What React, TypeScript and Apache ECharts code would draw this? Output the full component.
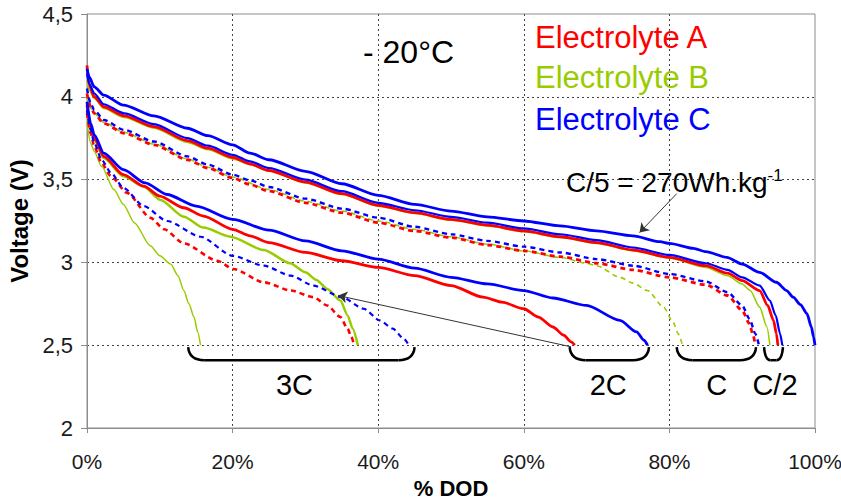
import React, { useEffect, useRef } from 'react';
import * as echarts from 'echarts';

const RED = '#ff0000';
const GREEN = '#99cc00';
const BLUE = '#0000ff';
const FONT = '"Liberation Sans", Arial, Helvetica, sans-serif';

// ---- axis ranges ----
const xRange = [0, 100];
const yRange = [2, 4.5];

// ---- discharge curves (% DOD, Voltage) ----
// C/5, electrolyte C
const c5_C = [[0,4.17],[0.3,4.12],[1,4.06],[2.3,4.01],[5,3.95],[9.2,3.885],[13.8,3.81],[16.6,3.765],[20,3.71],[22.4,3.66],[25,3.62],[30,3.55],[35,3.475],[40,3.405],[45,3.35],[50,3.31],[55,3.275],[60,3.25],[65,3.22],[70,3.19],[75,3.16],[78.7,3.125],[80,3.115],[83.3,3.085],[85,3.065],[87.9,3.03],[90,2.99],[92.4,2.94],[94.7,2.88],[96.1,2.83],[97,2.79],[98,2.745],[98.9,2.69],[99.5,2.61],[99.8,2.55],[100,2.5]];
// C/2
const c2_A = [[0,4.19],[0.3,4.07],[1,4.0],[2.3,3.94],[5.1,3.885],[9.2,3.82],[13.8,3.735],[16.6,3.69],[20,3.635],[22.4,3.595],[25,3.555],[30,3.485],[35,3.415],[40,3.345],[45,3.3],[50,3.26],[55,3.225],[60,3.19],[65,3.155],[70,3.12],[75,3.075],[80,3.03],[85,2.98],[88,2.935],[90,2.89],[92.4,2.83],[93.5,2.74],[94.3,2.65],[94.7,2.57],[94.9,2.5]];
const c2_B = [[0,4.1],[0.3,4.04],[1,3.99],[2.3,3.93],[5.1,3.875],[9.2,3.81],[13.8,3.725],[16.6,3.68],[20,3.625],[22.4,3.59],[25,3.55],[30,3.48],[35,3.41],[40,3.34],[45,3.295],[50,3.255],[55,3.22],[60,3.185],[65,3.15],[70,3.115],[75,3.07],[80,3.025],[85,2.97],[88,2.92],[90,2.87],[91.1,2.83],[92.4,2.73],[93.4,2.61],[93.8,2.5]];
const c2_C = [[0,4.14],[0.3,4.08],[1,4.02],[2.3,3.955],[5.1,3.9],[9.2,3.835],[13.8,3.75],[16.6,3.705],[20,3.65],[22.4,3.61],[25,3.57],[30,3.5],[35,3.43],[40,3.36],[45,3.315],[50,3.275],[55,3.24],[60,3.205],[65,3.17],[70,3.135],[75,3.09],[80,3.045],[85,2.995],[88,2.955],[90,2.91],[92.4,2.86],[93.8,2.77],[94.6,2.68],[95.2,2.57],[95.5,2.5]];
// C
const c1_A = [[0,4.02],[0.5,3.94],[1,3.9],[2.3,3.84],[5.1,3.78],[9.2,3.71],[13.8,3.62],[16.6,3.57],[20,3.51],[22.4,3.47],[25,3.43],[30,3.36],[35,3.3],[40,3.24],[45,3.19],[50,3.15],[55,3.105],[60,3.07],[65,3.035],[70,2.995],[75,2.955],[80,2.91],[85,2.865],[88,2.8],[90,2.71],[91,2.63],[91.5,2.56],[91.8,2.5]];
const c1_B = [[0,4.0],[0.5,3.93],[1,3.9],[2.3,3.845],[5.1,3.785],[9.2,3.715],[13.8,3.625],[16.6,3.575],[20,3.515],[25,3.44],[30,3.37],[35,3.31],[40,3.25],[45,3.2],[50,3.155],[55,3.11],[60,3.07],[65,3.03],[68.6,2.995],[70,2.98],[73.2,2.91],[75,2.875],[77,2.83],[79.2,2.73],[80.5,2.64],[81.2,2.57],[81.8,2.5]];
const c1_C = [[0,4.05],[0.5,3.96],[1,3.92],[2.3,3.86],[5.1,3.8],[9.2,3.73],[13.8,3.64],[16.6,3.59],[20,3.53],[22.4,3.495],[25,3.455],[30,3.385],[35,3.325],[40,3.27],[45,3.215],[50,3.17],[55,3.13],[60,3.095],[65,3.06],[70,3.02],[75,2.98],[80,2.93],[85,2.885],[88,2.82],[90,2.74],[91,2.66],[91.8,2.57],[92.3,2.5]];
// 2C
const c2C_A = [[0,3.95],[0.5,3.82],[1,3.75],[2.3,3.64],[5,3.53],[7.8,3.46],[10,3.4],[13.3,3.33],[16,3.28],[20,3.2],[22.4,3.16],[25,3.12],[30,3.06],[35,3.01],[40,2.97],[45,2.92],[50,2.86],[54.4,2.79],[57,2.76],[60,2.72],[62,2.67],[64,2.61],[65.5,2.56],[66.5,2.52],[67,2.5]];
const c2C_B = [[0,3.92],[0.5,3.8],[1,3.74],[2.3,3.63],[5,3.52],[7.8,3.457],[10.1,3.377],[13.3,3.276],[16,3.21],[19.7,3.155],[24.3,3.075],[27.9,2.995],[30,2.94],[31.5,2.894],[33,2.84],[34.8,2.77],[35.8,2.68],[36.5,2.6],[37.2,2.5]];
const c2C_C = [[0,3.97],[0.5,3.84],[1,3.77],[2.3,3.66],[5,3.56],[8,3.48],[11,3.41],[15,3.34],[20,3.26],[25,3.195],[30,3.13],[35,3.07],[40,3.02],[45,2.965],[50,2.91],[55,2.87],[60,2.83],[64,2.785],[68.6,2.74],[73.2,2.65],[75.5,2.58],[76.5,2.53],[77,2.5]];
// 3C
const c3C_A = [[0,3.9],[0.5,3.78],[1,3.7],[2,3.6],[3.3,3.52],[5.5,3.42],[8.7,3.27],[10.6,3.2],[13.3,3.115],[17.9,3.01],[20.1,2.96],[24.3,2.88],[28,2.83],[31.1,2.79],[33,2.74],[34.8,2.67],[35.8,2.6],[36.3,2.55],[36.7,2.5]];
const c3C_B = [[0,3.85],[0.5,3.72],[1,3.67],[2,3.58],[3.7,3.44],[5,3.35],[6.5,3.24],[8.7,3.1],[10,3.04],[11.5,2.99],[12.5,2.92],[13.3,2.83],[14,2.75],[14.7,2.67],[15.2,2.58],[15.6,2.5]];
const c3C_C = [[0,3.92],[0.5,3.8],[1,3.72],[2,3.62],[3.3,3.54],[5,3.45],[7.8,3.34],[11,3.25],[15.6,3.155],[20,3.04],[24.3,2.98],[28,2.92],[31.1,2.86],[35,2.79],[38,2.72],[40.2,2.65],[42,2.6],[43.5,2.54],[44.2,2.5]];

// ---- rate brackets ----
const bracketLabels = ['3C', '2C', 'C', 'C/2'];
const bracketFrom = [13.9, 66.3, 81.0, 93.0];
const bracketTo = [45.0, 77.2, 91.9, 95.6];
const bracketLabelX = [28.5, 71.6, 86.5, 94.5];
const bracketV = 2.5;

// ---- arrows ----
const arrowFrom = [[81.0, 3.415], [66.5, 2.49]];
const arrowTo = [[75.9, 3.18], [34.5, 2.8]];

// ---- texts ----
const legendTexts = ['Electrolyte A', 'Electrolyte B', 'Electrolyte C'];
const legendColors = [RED, GREEN, BLUE];
const tempText = '- 20°C';

type Curve = { name: string; data: number[][]; color: string; width: number; dashed: boolean };

const curves: Curve[] = [
  // green (bottom layer)
  { name: 'Electrolyte B', data: c3C_B, color: GREEN, width: 1.5, dashed: false },
  { name: 'Electrolyte B', data: c1_B, color: GREEN, width: 1.6, dashed: true },
  { name: 'Electrolyte B', data: c2_B, color: GREEN, width: 1.6, dashed: false },
  { name: 'Electrolyte B', data: c2C_B, color: GREEN, width: 2.5, dashed: false },
  // red
  { name: 'Electrolyte A', data: c3C_A, color: RED, width: 2.6, dashed: true },
  { name: 'Electrolyte A', data: c2C_A, color: RED, width: 2.8, dashed: false },
  { name: 'Electrolyte A', data: c1_A, color: RED, width: 2.8, dashed: true },
  { name: 'Electrolyte A', data: c2_A, color: RED, width: 2.8, dashed: false },
  // blue
  { name: 'Electrolyte C', data: c3C_C, color: BLUE, width: 2.2, dashed: true },
  { name: 'Electrolyte C', data: c2C_C, color: BLUE, width: 2.8, dashed: false },
  { name: 'Electrolyte C', data: c1_C, color: BLUE, width: 2.4, dashed: true },
  { name: 'Electrolyte C', data: c2_C, color: BLUE, width: 2.2, dashed: false },
  { name: 'Electrolyte C', data: c5_C, color: BLUE, width: 2.8, dashed: false },
];

export default function App() {
  const ref = useRef<HTMLDivElement>(null);

  useEffect(() => {
    if (!ref.current) return;
    const chart = echarts.init(ref.current, undefined, { renderer: 'svg' });

    const lineSeries = curves.map((c) => ({
      type: 'line',
      name: c.name,
      data: c.data,
      showSymbol: false,
      symbol: 'none',
      smooth: 0.25,
      smoothMonotone: 'x',
      lineStyle: { color: c.color, width: c.width, type: c.dashed ? [5, 4] : 'solid' },
      itemStyle: { color: c.color },
      z: 3,
    }));

    const bracketData = bracketLabels.map((_, i) => [bracketFrom[i], bracketTo[i], bracketLabelX[i], bracketV]);

    const option: any = {
      animation: false,
      backgroundColor: '#ffffff',
      grid: {
        left: 87, right: 26, top: 14, bottom: 72,
        outerBoundsMode: 'none',
        containLabel: false,
        show: true, borderColor: '#8c8c8c', borderWidth: 1, backgroundColor: 'transparent',
      },
      xAxis: {
        type: 'value', min: xRange[0], max: xRange[1], interval: 20,
        name: '% DOD', nameLocation: 'middle', nameGap: 46,
        nameTextStyle: { fontSize: 22, fontWeight: 'bold', fontFamily: FONT, color: '#000', lineHeight: 24 },
        axisLine: { show: true, lineStyle: { color: '#8c8c8c', width: 1 } },
        axisTick: { show: true, inside: false, length: 5, lineStyle: { color: '#8c8c8c' } },
        axisLabel: { fontSize: 21, fontFamily: FONT, color: '#1a1a1a', margin: 23, formatter: (v: number) => `${v}%` },
        splitLine: { show: true, showMinLine: false, showMaxLine: false, lineStyle: { color: '#444', type: [2, 3], width: 1 } },
      },
      yAxis: {
        type: 'value', min: yRange[0], max: yRange[1], interval: 0.5,
        name: 'Voltage (V)', nameLocation: 'middle', nameGap: 47,
        nameTextStyle: { fontSize: 24, fontWeight: 'bold', fontFamily: FONT, color: '#000' },
        axisLine: { show: true, lineStyle: { color: '#8c8c8c', width: 1 } },
        axisTick: { show: true, inside: false, length: 6, lineStyle: { color: '#8c8c8c' } },
        axisLabel: { fontSize: 22, fontFamily: FONT, color: '#1a1a1a', margin: 14, formatter: (v: number) => String(v).replace('.', ',') },
        splitLine: { show: true, showMinLine: false, showMaxLine: false, lineStyle: { color: '#444', type: [2, 3], width: 1 } },
      },
      series: [
        ...lineSeries,
        {
          type: 'lines',
          coordinateSystem: 'cartesian2d',
          polyline: false,
          symbol: ['none', 'arrow'],
          symbolSize: 9,
          silent: true,
          lineStyle: { color: '#333', width: 1, opacity: 1, curveness: 0 },
          data: arrowFrom.map((f, i) => ({ coords: [f, arrowTo[i]] })),
          z: 4,
        },
        {
          type: 'custom',
          encode: { x: [0, 1, 2], y: 3 },
          data: bracketData,
          silent: true,
          clip: false,
          z: 4,
          renderItem: (params: any, api: any) => {
            const a = api.coord([api.value(0), api.value(3)]);
            const b = api.coord([api.value(1), api.value(3)]);
            const c = api.coord([api.value(2), api.value(3)]);
            const yTop = a[1] + 2;
            const yBot = a[1] + 15;
            const r = Math.min(16, (b[0] - a[0]) / 3);
            const st = { stroke: '#000', lineWidth: 2.5, fill: null };
            return {
              type: 'group',
              children: [
                { type: 'bezierCurve', shape: { x1: a[0], y1: yTop, x2: a[0] + r, y2: yBot, cpx1: a[0] + 1, cpy1: yBot }, style: st },
                { type: 'line', shape: { x1: a[0] + r, y1: yBot, x2: b[0] - r, y2: yBot }, style: st },
                { type: 'bezierCurve', shape: { x1: b[0], y1: yTop, x2: b[0] - r, y2: yBot, cpx1: b[0] - 1, cpy1: yBot }, style: st },
                {
                  type: 'text', x: c[0], y: a[1] + 40,
                  style: { text: bracketLabels[params.dataIndex], fontSize: 29, fontFamily: FONT, fill: '#000', align: 'center', verticalAlign: 'middle' },
                },
              ],
            };
          },
        },
      ],
      graphic: [
        {
          type: 'text', x: 363, y: 52,
          style: { text: tempText, fontSize: 32, fontFamily: FONT, fill: '#000', align: 'left', verticalAlign: 'middle' },
        },
        ...legendTexts.map((t, i) => ({
          type: 'text', x: 535, y: [37, 77, 119][i],
          style: { text: t, fontSize: 31, fontFamily: FONT, fill: legendColors[i], align: 'left', verticalAlign: 'middle' },
        })),
        {
          type: 'text', x: 566, y: 182,
          style: {
            text: '{m|C/5 = 270Wh.kg}{s|-1}', align: 'left', verticalAlign: 'middle',
            rich: {
              m: { fontSize: 28, fontFamily: FONT, fill: '#000', color: '#000', lineHeight: 30 },
              s: { fontSize: 17, fontFamily: FONT, fill: '#000', color: '#000', lineHeight: 17, verticalAlign: 'top' },
            },
          },
        },
      ],
    };

    chart.setOption(option);
    return () => chart.dispose();
  }, []);

  return <div ref={ref} style={{ position: 'absolute', left: 0, top: 0, width: 841, height: 500, background: '#fff' }} />;
}
